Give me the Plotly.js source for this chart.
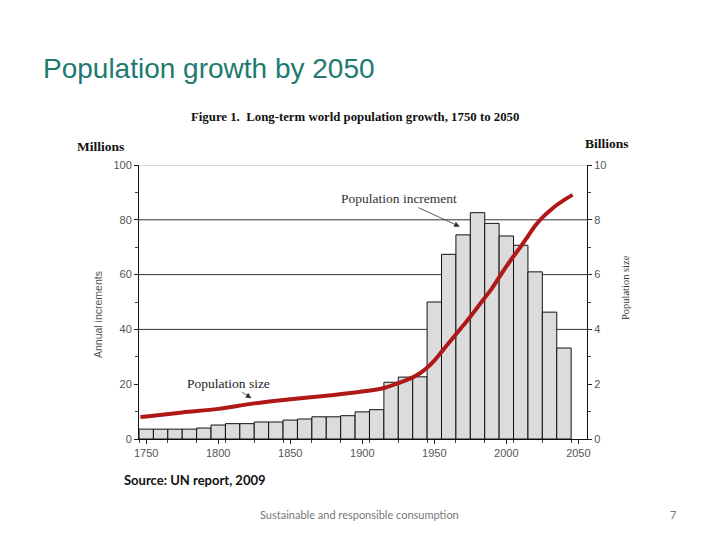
<!DOCTYPE html>
<html>
<head>
<meta charset="utf-8">
<script src="https://cdn.plot.ly/plotly-3.0.1.min.js"></script>
<style>
  html, body { margin: 0; padding: 0; background: #ffffff; }
  #chart { width: 720px; height: 540px; }
</style>
</head>
<body>
<div id="chart"></div>
<script>
// Decade bars: annual population increments (millions)
const decades = [1750,1760,1770,1780,1790,1800,1810,1820,1830,1840,1850,1860,1870,1880,1890,
                 1900,1910,1920,1930,1940,1950,1960,1970,1980,1990,2000,2010,2020,2030,2040];
const increments = [3.6,3.6,3.6,3.6,4.0,5.1,5.6,5.6,6.2,6.2,6.9,7.3,8.1,8.1,8.5,
                    9.9,10.7,20.7,22.6,22.7,50.0,67.4,74.5,82.6,78.7,74.1,70.7,61.0,46.3,33.2];

// Population size curve (billions)
const popYears = [1746,1750,1775,1800,1825,1850,1875,1900,1915,1925,1935,1940,1945,1950,1955,1960,
                  1965,1970,1975,1980,1985,1990,1995,2000,2005,2010,2015,2020,2025,2030,2035,2040,2046];
const popSize = [0.80,0.82,0.97,1.10,1.30,1.45,1.58,1.73,1.86,2.04,2.25,2.40,2.60,2.86,3.18,3.50,
                 3.82,4.14,4.46,4.81,5.15,5.50,5.90,6.30,6.67,7.02,7.40,7.78,8.08,8.32,8.54,8.72,8.91];

// Tick labels
const xTickVals = [1750,1800,1850,1900,1950,2000,2050];
const yLeftTicks = [0,20,40,60,80,100];
const yRightTicks = [0,2,4,6,8,10];
const gridValues = [40,60,80,100];

const tickFont = {family: 'Liberation Sans, Arial, sans-serif', size: 11, color: '#555'};
const serif = 'Liberation Serif, Times New Roman, serif';

const traces = [
  {
    type: 'bar', x: decades, y: increments, width: 10,
    marker: {color: '#dcdcdc', line: {color: '#111', width: 1}},
    hoverinfo: 'x+y', showlegend: false
  },
  {
    type: 'scatter', mode: 'lines', x: popYears, y: popSize, yaxis: 'y2',
    line: {color: '#b01818', width: 4, shape: 'spline', smoothing: 1},
    showlegend: false
  }
];

const gridShapes = gridValues.map(v => ({
  type: 'line', xref: 'paper', yref: 'y', x0: 0, x1: 1, y0: v, y1: v,
  line: {color: v === 100 ? '#b0b0b0' : '#333', width: 1}, layer: 'below'
}));

function note(text, x, y, font, extra) {
  return Object.assign({text: text, xref: 'paper', yref: 'paper', x: x, y: y,
    xanchor: 'center', yanchor: 'middle', showarrow: false, font: font}, extra || {});
}

const layout = {
  width: 720, height: 540,
  paper_bgcolor: '#ffffff', plot_bgcolor: '#ffffff',
  margin: {l: 139, r: 133, t: 165, b: 101},
  bargap: 0,
  title: {
    text: 'Population growth by 2050',
    xref: 'container', yref: 'container', x: 43/720, xanchor: 'left', y: 1 - 68/540, yanchor: 'middle',
    font: {family: 'Liberation Sans, Arial, sans-serif', size: 28, color: '#217a70'}
  },
  xaxis: {
    range: [1745, 2056], tickvals: xTickVals, ticks: 'outside', ticklen: 4, tickcolor: '#222',
    showline: true, linecolor: '#111', linewidth: 1, showgrid: false, zeroline: false,
    tickfont: tickFont,
    minor: {ticks: 'outside', ticklen: 3, tickcolor: '#444', tick0: 1745, dtick: 20}
  },
  yaxis: {
    range: [0, 100], tickvals: yLeftTicks, ticks: 'outside', ticklen: 4, tickcolor: '#222',
    showline: true, linecolor: '#111', linewidth: 1, showgrid: false, zeroline: false,
    tickfont: tickFont, ticklabelstandoff: 0,
    minor: {ticks: 'outside', ticklen: 3, tickcolor: '#444', dtick: 10}
  },
  yaxis2: {
    range: [0, 10], tickvals: yRightTicks, overlaying: 'y', side: 'right',
    ticks: 'outside', ticklen: 4, tickcolor: '#222',
    showline: true, linecolor: '#111', linewidth: 1, showgrid: false, zeroline: false,
    tickfont: tickFont, ticklabelstandoff: 0,
    minor: {ticks: 'outside', ticklen: 3, tickcolor: '#444', dtick: 1}
  },
  shapes: gridShapes,
  annotations: [
    note('<b>Figure 1.  Long-term world population growth, 1750 to 2050</b>', 0.483, 1.175,
         {family: serif, size: 12.8, color: '#111'}),
    note('<b>Millions</b>', -0.087, 1.069, {family: serif, size: 13.5, color: '#111'}),
    note('<b>Billions</b>', 1.045, 1.080, {family: serif, size: 13.5, color: '#111'}),
    note('Annual increments', -0.0915, 0.4526,
         {family: 'Liberation Sans Narrow, Liberation Sans, Arial, sans-serif', size: 10.5, color: '#555'},
         {textangle: -90}),
    note('Population size', 1.085, 0.551, {family: serif, size: 10.5, color: '#333'}, {textangle: -90}),
    {text: 'Population increment', x: 1967.7, y: 77.5, xref: 'x', yref: 'y', showarrow: true,
     ax: -61, ay: -28, arrowhead: 2, arrowsize: 1.4, arrowwidth: 0.8, arrowcolor: '#333',
     font: {family: serif, size: 13.5, color: '#333'}},
    {text: 'Population size', x: 1823, y: 14.9, xref: 'x', yref: 'y', showarrow: true,
     ax: -23, ay: -15, arrowhead: 2, arrowsize: 1.4, arrowwidth: 0.8, arrowcolor: '#333',
     font: {family: serif, size: 13.5, color: '#222'}},
    note('<b>Source: UN report, 2009</b>', -0.038, -0.150, {family: 'Lato, sans-serif', size: 13, color: '#111'},
         {xanchor: 'left'}),
    note('Sustainable and responsible consumption', 0.493, -0.277, {family: 'Lato, sans-serif', size: 11, color: '#777'}),
    note('7', 1.192, -0.277, {family: 'Lato, sans-serif', size: 11, color: '#777'})
  ]
};

Plotly.newPlot('chart', traces, layout, {displayModeBar: false, staticPlot: true});
</script>
</body>
</html>
